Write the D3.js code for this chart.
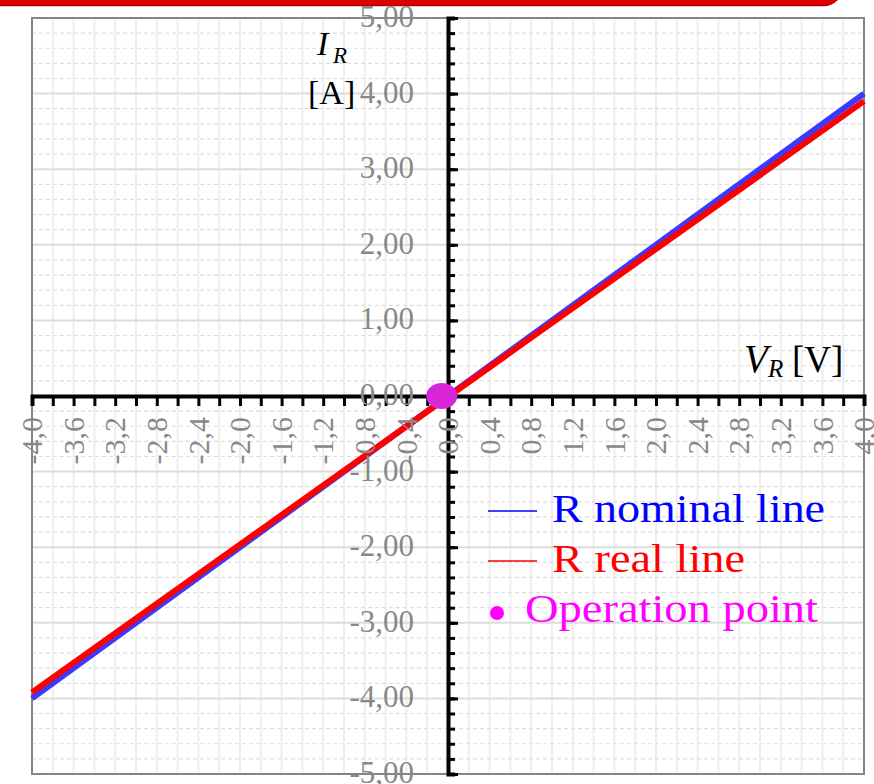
<!DOCTYPE html>
<html>
<head>
<meta charset="utf-8">
<script src="https://cdn.jsdelivr.net/npm/d3@7"></script>
<style>
  html, body { margin: 0; padding: 0; background: #fff; }
  svg { display: block; }
</style>
</head>
<body>
<svg id="chart" width="874" height="784"></svg>
<script>
// Resistor I–V characteristic: nominal vs. real line and the operation point.
const voltage = [-4.0, 4.0];            // V_R [V]
const nominalCurrent = [-4.0, 4.0];     // I_R [A], R nominal
const realCurrent = [-3.92, 3.90];      // I_R [A], R real
const operationPoint = [{ v: -0.06, i: 0.0 }];

const xLabelValues = [-4.0, -3.6, -3.2, -2.8, -2.4, -2.0, -1.6, -1.2, -0.8, -0.4,
                      0.0, 0.4, 0.8, 1.2, 1.6, 2.0, 2.4, 2.8, 3.2, 3.6, 4.0];
const yLabelValues = [5, 4, 3, 2, 1, 0, -1, -2, -3, -4, -5];

const legendItems = [
  { label: "R nominal line", kind: "line", color: "#0000ff" },
  { label: "R real line", kind: "line", color: "#ff0000" },
  { label: "Operation point", kind: "dot", color: "#ff00ff" }
];

const FONT = "'Liberation Serif', 'Times New Roman', serif";
const svg = d3.select("#chart");

const plot = { left: 32, right: 864, top: 18, bottom: 774 };
const x = d3.scaleLinear().domain([-4, 4]).range([plot.left, plot.right]);
const y = d3.scaleLinear().domain([-5, 5]).range([plot.bottom, plot.top]);

// Decorative frame edge at the top of the page
svg.append("rect")
  .attr("x", -30).attr("y", -40)
  .attr("width", 873).attr("height", 45.5)
  .attr("rx", 20)
  .attr("fill", "#dd0000")
  .attr("stroke", "#b80000").attr("stroke-width", 1.5);

// Grid
const fineStep = 0.2;
const xFine = d3.range(-20, 21).map(k => k * fineStep);
const yFine = d3.range(-25, 26).map(k => k * fineStep);
const isMajor = d => Math.abs(d - Math.round(d)) < 1e-9;

const grid = svg.append("g");
grid.selectAll("line.vx").data(xFine).join("line")
  .attr("x1", d => x(d)).attr("x2", d => x(d))
  .attr("y1", plot.top).attr("y2", plot.bottom)
  .attr("stroke", "#eeeeee").attr("stroke-width", 2);

grid.selectAll("line.hy").data(yFine).join("line")
  .attr("x1", plot.left).attr("x2", plot.right)
  .attr("y1", d => y(d)).attr("y2", d => y(d))
  .attr("stroke", d => isMajor(d) ? "#dcdcdc" : "#dedede")
  .attr("stroke-width", d => isMajor(d) ? 2 : 1.2)
  .attr("stroke-dasharray", d => isMajor(d) ? null : "4,3");

// Plot frame
svg.append("rect")
  .attr("x", plot.left).attr("y", plot.top)
  .attr("width", plot.right - plot.left).attr("height", plot.bottom - plot.top)
  .attr("fill", "none").attr("stroke", "#858585").attr("stroke-width", 2);

// Characteristic lines
const nominalPts = voltage.map((v, k) => [v, nominalCurrent[k]]);
const realPts = voltage.map((v, k) => [v, realCurrent[k]]);
const lineGen = d3.line().x(d => x(d[0])).y(d => y(d[1]));

svg.append("path").datum(nominalPts)
  .attr("d", lineGen).attr("fill", "none")
  .attr("stroke", "#3a3aff").attr("stroke-width", 6);
svg.append("path").datum(realPts)
  .attr("d", lineGen).attr("fill", "none")
  .attr("stroke", "#ff0000").attr("stroke-width", 6);

// Axes through the origin
const xAxis = d3.axisBottom(x).tickValues(xFine).tickSize(10).tickFormat("");
const gx = svg.append("g").attr("transform", `translate(0,${y(0)})`).call(xAxis);
gx.select(".domain").attr("stroke", "#000").attr("stroke-width", 4);
gx.selectAll(".tick line").attr("stroke", "#000").attr("stroke-width", 3);

const yAxisMinor = d3.axisRight(y).tickValues(yFine).tickSize(7).tickFormat("");
const gy = svg.append("g").attr("transform", `translate(${x(0)},0)`).call(yAxisMinor);
gy.select(".domain").attr("stroke", "#000").attr("stroke-width", 4);
gy.selectAll(".tick line").attr("stroke", "#000").attr("stroke-width", 3);

const yAxisMajor = d3.axisRight(y).tickValues(yLabelValues).tickSize(10).tickFormat("");
const gy2 = svg.append("g").attr("transform", `translate(${x(0)},0)`).call(yAxisMajor);
gy2.select(".domain").remove();
gy2.selectAll(".tick line").attr("stroke", "#000").attr("stroke-width", 3);

// Tick labels
svg.append("g").selectAll("text").data(xLabelValues).join("text")
  .attr("transform", d => `translate(${x(d)},417) rotate(-90)`)
  .attr("text-anchor", "end")
  .attr("dy", "0.34em")
  .attr("font-family", FONT).attr("font-size", 30)
  .attr("fill", "#888")
  .text(d => d.toFixed(1).replace(".", ","));

svg.append("g").selectAll("text").data(yLabelValues).join("text")
  .attr("x", 414)
  .attr("y", d => y(d) + 9)
  .attr("text-anchor", "end")
  .attr("font-family", FONT).attr("font-size", 31)
  .attr("fill", "#888")
  .text(d => d.toFixed(2).replace(".", ","));

// Axis names
const names = svg.append("g").attr("font-family", FONT).attr("fill", "#000");
names.append("text").attr("x", 317).attr("y", 55)
  .attr("font-size", 34).attr("font-style", "italic").text("I");
names.append("text").attr("x", 333).attr("y", 63)
  .attr("font-size", 23).attr("font-style", "italic").text("R");
names.append("text").attr("x", 308).attr("y", 104)
  .attr("font-size", 34).text("[A]");

names.append("text").attr("x", 744).attr("y", 372)
  .attr("font-size", 39).attr("font-style", "italic").text("V");
names.append("text").attr("x", 768).attr("y", 377)
  .attr("font-size", 25).attr("font-style", "italic").text("R");
names.append("text").attr("x", 792).attr("y", 372)
  .attr("font-size", 37).text("[V]");

// Operation point
svg.append("g").selectAll("ellipse").data(operationPoint).join("ellipse")
  .attr("cx", d => x(d.v)).attr("cy", d => y(d.i))
  .attr("rx", 15.5).attr("ry", 13)
  .attr("fill", "#d926d9");

// Legend
const legendTextX = [552, 552, 525];
const legendWidths = [273, 193, 293];
const legend = svg.append("g");
legendItems.forEach((item, k) => {
  const base = 522 + k * 50;
  if (item.kind === "line") {
    legend.append("line")
      .attr("x1", 488).attr("x2", 537)
      .attr("y1", base - 11).attr("y2", base - 11)
      .attr("stroke", item.color).attr("stroke-width", 1.6);
  } else {
    legend.append("circle")
      .attr("cx", 497).attr("cy", base - 9).attr("r", 7)
      .attr("fill", item.color);
  }
  legend.append("text")
    .attr("x", legendTextX[k]).attr("y", base)
    .attr("font-family", FONT).attr("font-size", 40)
    .attr("fill", item.color)
    .attr("textLength", legendWidths[k]).attr("lengthAdjust", "spacingAndGlyphs")
    .text(item.label);
});
</script>
</body>
</html>
